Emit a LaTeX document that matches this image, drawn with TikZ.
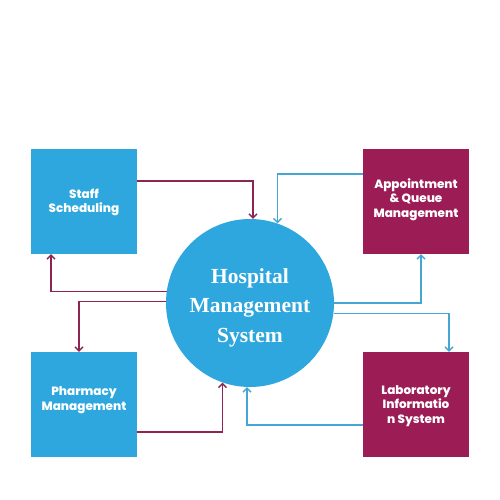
\documentclass[tikz,border=0pt]{standalone}
\usepackage{fontspec}
\setmainfont{Liberation Serif}
\newfontfamily\popp{Poppins}[BoldFont={* ExtraBold}]
\usetikzlibrary{arrows.meta}
\definecolor{boxblue}{HTML}{2EA7DF}
\definecolor{boxmar}{HTML}{9C1D55}
\definecolor{lnblue}{HTML}{45A6D3}
\definecolor{lnmar}{HTML}{8E2454}
\tikzset{
  sqbox/.style={rectangle, minimum width=106pt, minimum height=105pt, inner sep=0pt},
  bluebox/.style={sqbox, fill=boxblue},
  marbox/.style={sqbox, fill=boxmar},
  boxtext/.style={text=white, font=\popp\bfseries\fontsize{12}{14.5}\selectfont, align=center},
  hub/.style={circle, fill=boxblue, minimum size=168pt, inner sep=0pt},
  hubtext/.style={text=white, align=center, font=\bfseries\fontsize{21.5}{29.5}\selectfont},
  conn/.style={line width=1.4pt, -{Straight Barb[length=4pt,width=8pt,line width=1.4pt]}},
  mar/.style={conn, draw=lnmar},
  blu/.style={conn, draw=lnblue},
}
\begin{document}
\begin{tikzpicture}[x=1pt,y=-1pt]
\useasboundingbox (0,0) rectangle (500,500);
\node[bluebox] (staff) at (84,201.5) {};
\node[marbox] (app) at (416,201.5) {};
\node[bluebox] (pharm) at (84,404.5) {};
\node[marbox] (lab) at (416,404.5) {};
\node[boxtext] (stafft) at (84,202.5) {Staff\\Scheduling};
\node[boxtext] (appt) at (416,199.5) {Appointment\\\& Queue\\Management};
\node[boxtext] (pharmt) at (84,400) {Pharmacy\\Management};
\node[boxtext] (labt) at (416,406) {Laboratory\\Informatio\\n System};
\node[hub] (hms) at (250,303) {};
\node[hubtext] (hmst) at (250,307.5) {Hospital\\Management\\System};
\draw[mar] (staff.east |- 0,181) -| (hms.88.6);
\draw[blu] (app.west |- 0,174) -| (hms.71.25);
\draw[mar] (hms.172.5) -| (staff.south -| 51,0);
\draw[mar] (hms.179.3) -| (pharm.north -| 79,0);
\draw[mar] (pharm.east |- 0,432) -| (hms.251.25);
\draw[blu] (lab.west |- 0,425) -| (hms.268.6);
\draw[blu] (hms.-0.7) -| (app.south -| 421,0);
\draw[blu] (hms.-7.5) -| (lab.north -| 449,0);
\end{tikzpicture}
\end{document}
